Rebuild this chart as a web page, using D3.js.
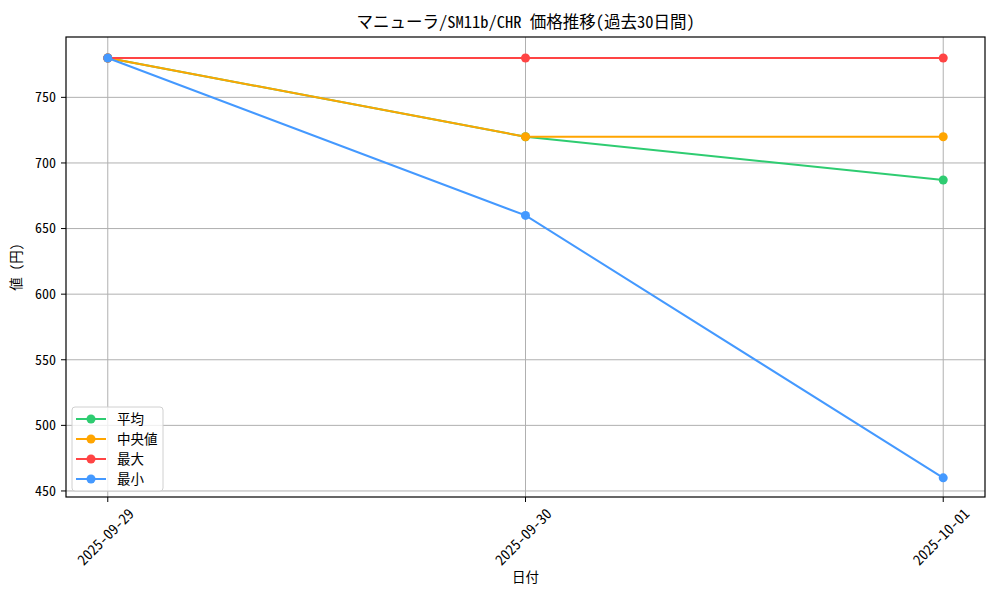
<!DOCTYPE html>
<html>
<head>
<meta charset="utf-8">
<script src="https://cdn.jsdelivr.net/npm/d3@7"></script>
<style>
  body { margin: 0; background: #fff; }
  text { font-family: "Noto Sans Mono CJK JP", "Noto Sans CJK JP", monospace; fill: #000; }
</style>
</head>
<body>
<div id="chart"></div>
<script>
// price history, values
const dates = ["2025-09-29", "2025-09-30", "2025-10-01"];
const avgValues = [780, 720, 687];
const medianValues = [780, 720, 720];
const maxValues = [780, 780, 780];
const minValues = [780, 660, 460];
const yTicks = [450, 500, 550, 600, 650, 700, 750];

const seriesList = [
    { name: "平均", values: avgValues, color: "#2ecc71" },
    { name: "中央値", values: medianValues, color: "#ffa500" },
    { name: "最大", values: maxValues, color: "#ff4444" },
    { name: "最小", values: minValues, color: "#4499ff" }
];

const width = 1000, height = 600;
const margin = { top: 37, right: 15, bottom: 103, left: 66 };
const innerW = width - margin.left - margin.right;
const innerH = height - margin.top - margin.bottom;

const svg = d3.select("#chart").append("svg")
    .attr("width", width)
    .attr("height", height);

const parse = d3.timeParse("%Y-%m-%d");
const xDates = dates.map(parse);
const span = xDates[2] - xDates[0];

const x = d3.scaleTime()
    .domain([new Date(+xDates[0] - span * 0.05), new Date(+xDates[2] + span * 0.05)])
    .range([0, innerW]);

const y = d3.scaleLinear()
    .domain([445.4, 796])
    .range([innerH, 0]);

const g = svg.append("g").attr("transform", `translate(${margin.left},${margin.top})`);

// grid
g.append("g").selectAll("line").data(yTicks).join("line")
    .attr("x1", 0).attr("x2", innerW)
    .attr("y1", d => y(d)).attr("y2", d => y(d))
    .attr("stroke", "#b0b0b0").attr("stroke-width", 1);
g.append("g").selectAll("line").data(xDates).join("line")
    .attr("x1", d => x(d)).attr("x2", d => x(d))
    .attr("y1", 0).attr("y2", innerH)
    .attr("stroke", "#b0b0b0").attr("stroke-width", 1);

// lines + markers
const line = d3.line().x((d, i) => x(xDates[i])).y(d => y(d));
seriesList.forEach(s => {
    const sg = g.append("g");
    sg.append("path")
        .attr("d", line(s.values))
        .attr("fill", "none")
        .attr("stroke", s.color)
        .attr("stroke-width", 2);
    sg.selectAll("circle").data(s.values).join("circle")
        .attr("cx", (d, i) => x(xDates[i]))
        .attr("cy", d => y(d))
        .attr("r", 4.5)
        .attr("fill", s.color);
});

// frame
g.append("rect")
    .attr("width", innerW).attr("height", innerH)
    .attr("fill", "none").attr("stroke", "#000").attr("stroke-width", 1.2);

// y axis
const yAxis = g.append("g");
yAxis.selectAll("line").data(yTicks).join("line")
    .attr("x1", -5).attr("x2", 0)
    .attr("y1", d => y(d)).attr("y2", d => y(d))
    .attr("stroke", "#000");
yAxis.selectAll("text").data(yTicks).join("text")
    .attr("x", -10).attr("y", d => y(d))
    .attr("dy", "0.35em")
    .attr("text-anchor", "end")
    .attr("font-size", 14)
    .text(d => d);

// x axis, rotated labels
const xAxis = g.append("g").attr("transform", `translate(0,${innerH})`);
xAxis.selectAll("line").data(xDates).join("line")
    .attr("x1", d => x(d)).attr("x2", d => x(d))
    .attr("y1", 0).attr("y2", 5)
    .attr("stroke", "#000");
xAxis.selectAll("text").data(dates).join("text")
    .attr("transform", (d, i) => `translate(${x(xDates[i]) - 2},40) rotate(-45)`)
    .attr("dy", "0.35em")
    .attr("text-anchor", "middle")
    .attr("font-size", 14.5)
    .text(d => d);

// axis titles
svg.append("text")
    .attr("x", margin.left + innerW / 2).attr("y", 582)
    .attr("text-anchor", "middle")
    .attr("font-size", 13.5)
    .text("日付");
svg.append("text")
    .attr("transform", `translate(21,${margin.top + innerH / 2}) rotate(-90)`)
    .attr("text-anchor", "middle")
    .attr("font-size", 13.5)
    .text("値 (円)");

// title
svg.append("text")
    .attr("x", margin.left + innerW / 2).attr("y", 28)
    .attr("text-anchor", "middle")
    .attr("font-size", 16.5)
    .text("マニューラ/SM11b/CHR 価格推移(過去30日間)");

// legend
const legend = svg.append("g").attr("transform", "translate(72,407)");
legend.append("rect")
    .attr("width", 91).attr("height", 84).attr("rx", 3)
    .attr("fill", "#fff").attr("fill-opacity", 0.8)
    .attr("stroke", "#d0d0d0");
const items = legend.selectAll(".legend-item").data(seriesList).join("g")
    .attr("class", "legend-item")
    .attr("transform", (d, i) => `translate(0,${12 + i * 20})`);
items.append("line")
    .attr("x1", 4).attr("x2", 34)
    .attr("stroke", d => d.color).attr("stroke-width", 2);
items.append("circle")
    .attr("cx", 19).attr("r", 4.5)
    .attr("fill", d => d.color);
items.append("text")
    .attr("x", 45).attr("dy", "0.35em")
    .attr("font-size", 13.5)
    .text(d => d.name);
</script>
</body>
</html>
